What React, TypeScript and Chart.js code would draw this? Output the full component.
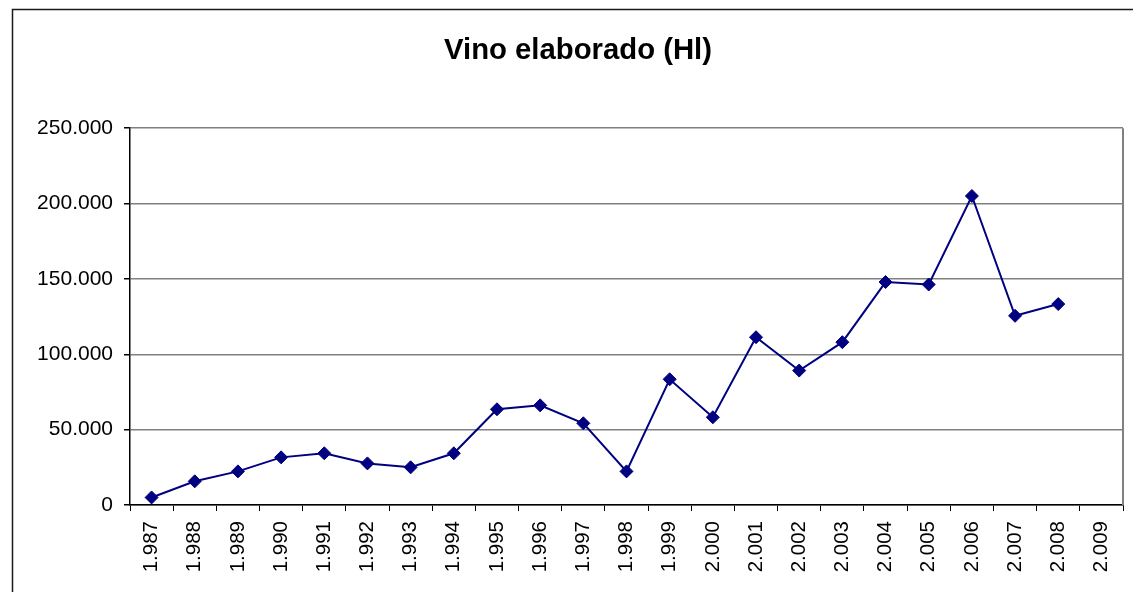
import React, { useEffect, useRef } from 'react';
import { Chart, registerables } from 'chart.js';

Chart.register(...registerables);

const TITLE = 'Vino elaborado (Hl)';
const CATEGORIES = [
  '1.987', '1.988', '1.989', '1.990', '1.991', '1.992', '1.993', '1.994',
  '1.995', '1.996', '1.997', '1.998', '1.999', '2.000', '2.001', '2.002',
  '2.003', '2.004', '2.005', '2.006', '2.007', '2.008', '2.009',
];
const VINO_HL: (number | null)[] = [
  5000, 15700, 22300, 31600, 34300, 27600, 25000, 34300,
  63500, 66100, 54200, 22300, 83400, 58200, 111300, 89200,
  108000, 147900, 146300, 205000, 125500, 133300, null,
];
const Y_MIN = 0;
const Y_MAX = 250000;
const Y_STEP = 50000;

const FONT = "'Liberation Sans', Arial, sans-serif";

const fmt = (v: number) => String(Math.round(v)).replace(/\B(?=(\d{3})+(?!\d))/g, '.');

const framePlugin = {
  id: 'frame',
  beforeDraw(chart: any) {
    const ctx = chart.ctx;
    ctx.save();
    ctx.fillStyle = '#ffffff';
    ctx.fillRect(0, 0, chart.width, chart.height);
    ctx.strokeStyle = '#1a1a1a';
    ctx.lineWidth = 1.5;
    ctx.strokeRect(12.5, 9.5, chart.width + 20, chart.height + 20);
    ctx.restore();
  },
  beforeDatasetsDraw(chart: any) {
    const { ctx, chartArea } = chart;
    ctx.save();
    ctx.strokeStyle = '#808080';
    ctx.lineWidth = 2;
    ctx.beginPath();
    ctx.moveTo(chartArea.right, chartArea.top);
    ctx.lineTo(chartArea.right, chartArea.bottom);
    ctx.stroke();
    ctx.restore();
  },
};

export default function App() {
  const ref = useRef<HTMLCanvasElement | null>(null);

  useEffect(() => {
    if (!ref.current) return;
    const chart = new Chart(ref.current, {
      type: 'line',
      data: {
        labels: CATEGORIES,
        datasets: [
          {
            label: TITLE,
            data: VINO_HL,
            borderColor: '#000080',
            backgroundColor: '#000080',
            borderWidth: 2,
            pointStyle: 'rectRot',
            pointRadius: 6.5,
            pointBorderWidth: 1,
            pointBackgroundColor: '#000080',
            pointBorderColor: '#000080',
            tension: 0,
            spanGaps: false,
          },
        ],
      },
      options: {
        responsive: false,
        animation: false,
        devicePixelRatio: 1,
        layout: { padding: { left: 33, right: 33, top: 0, bottom: 0 } },
        plugins: {
          legend: { display: false },
          tooltip: { enabled: false },
          title: {
            display: true,
            text: TITLE,
            color: '#000000',
            font: { family: FONT, size: 29.3, weight: 'bold', lineHeight: 1.2 },
            padding: { top: 33, bottom: 60 },
          },
        },
        scales: {
          x: {
            type: 'category',
            offset: true,
            grid: {
              display: true,
              drawOnChartArea: false,
              drawTicks: true,
              tickLength: 6,
              offset: true,
              color: '#000000',
              tickColor: '#000000',
            },
            border: { display: true, color: '#000000', width: 1.5 },
            ticks: {
              color: '#000000',
              font: { family: FONT, size: 20.5 },
              minRotation: 90,
              maxRotation: 90,
              autoSkip: false,
              padding: 10,
            },
            afterFit: (scale: any) => {
              scale.height = 115;
            },
          },
          y: {
            type: 'linear',
            min: Y_MIN,
            max: Y_MAX,
            grid: {
              color: '#808080',
              lineWidth: 1.5,
              drawTicks: true,
              tickLength: 6,
              tickColor: '#000000',
            },
            border: { display: true, color: '#000000', width: 1.5 },
            ticks: {
              stepSize: Y_STEP,
              color: '#000000',
              font: { family: FONT, size: 21 },
              padding: 11,
              callback: (v: any) => fmt(Number(v)),
            },
            afterFit: (scale: any) => {
              scale.width = 97;
            },
          },
        },
      },
      plugins: [framePlugin],
    } as any);
    return () => chart.destroy();
  }, []);

  return (
    <div
      style={{
        position: 'fixed',
        left: 0,
        top: 0,
        width: 1133,
        height: 592,
        overflow: 'hidden',
        background: '#ffffff',
      }}
    >
      <div style={{ position: 'absolute', left: 0, top: 0, width: 1156, height: 620 }}>
        <canvas ref={ref} width={1156} height={620} style={{ width: 1156, height: 620, display: 'block' }} />
      </div>
    </div>
  );
}
